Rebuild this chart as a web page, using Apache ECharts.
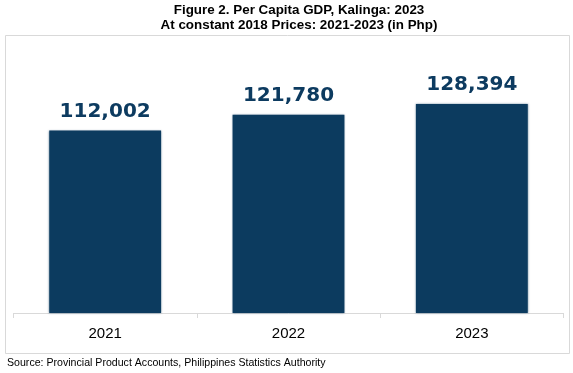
<!DOCTYPE html>
<html><head><meta charset="utf-8">
<script src="https://cdn.jsdelivr.net/npm/echarts@6/dist/echarts.min.js"></script>
<style>html,body{margin:0;padding:0;background:#fff}#c{width:573px;height:373px}</style>
</head><body><div id="c"></div>
<script>
const categories = ['2021', '2022', '2023'];
const values = [112002, 121780, 128394];
const titleLines = ['Figure 2. Per Capita GDP, Kalinga: 2023', 'At constant 2018 Prices: 2021-2023 (in Php)'];
const sourceText = 'Source: Provincial Product Accounts, Philippines Statistics Authority';

const chart = echarts.init(document.getElementById('c'), null, {renderer: 'canvas'});
chart.setOption({
  animation: false,
  backgroundColor: '#fff',
  graphic: [
    {type: 'rect', z: -1, shape: {x: 5.5, y: 35.5, width: 564, height: 318}, style: {fill: 'none', stroke: '#d9d9d9', lineWidth: 1}},
    {type: 'text', x: 299, y: 10, style: {text: titleLines[0], font: 'bold 13.4px "Liberation Sans", Arial', fill: '#000', align: 'center', verticalAlign: 'middle'}},
    {type: 'text', x: 299, y: 25.5, style: {text: titleLines[1], font: 'bold 13.4px "Liberation Sans", Arial', fill: '#000', align: 'center', verticalAlign: 'middle'}},
    {type: 'text', x: 7, y: 363, style: {text: sourceText, font: '10.6px "Liberation Sans", Arial', fill: '#000', align: 'left', verticalAlign: 'middle'}}
  ],
  grid: {left: 13.5, right: 9.5, top: 85, bottom: 60, containLabel: false},
  xAxis: {
    type: 'category', data: categories,
    axisLine: {lineStyle: {color: '#d9d9d9', width: 1}},
    axisTick: {show: true, length: 5, lineStyle: {color: '#d9d9d9'}},
    axisLabel: {color: '#000', fontFamily: '"Liberation Sans", Arial', fontSize: 15, margin: 13}
  },
  yAxis: {type: 'value', min: 0, max: 140000, show: false, splitLine: {show: false}},
  series: [{
    type: 'bar', data: values, barWidth: '61%',
    itemStyle: {color: '#0c3b5f', shadowBlur: 2, shadowColor: 'rgba(12,59,95,0.6)'},
    label: {
      show: true, position: 'top', distance: 9, color: '#0d3b60',
      fontFamily: '"DejaVu Sans"', fontWeight: 'bold', fontSize: 20,
      formatter: p => p.value.toLocaleString('en-US')
    }
  }]
});
</script></body></html>
